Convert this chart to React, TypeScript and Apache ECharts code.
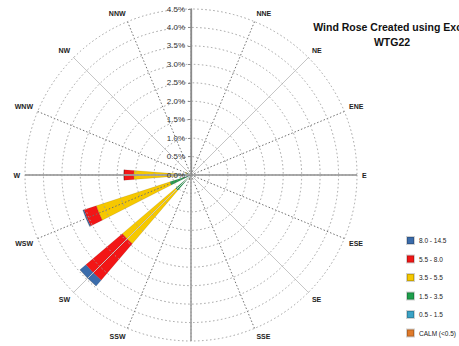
import React, { useEffect, useRef } from "react";
import * as echarts from "echarts";

const directions = ["N", "NNE", "NE", "ENE", "E", "ESE", "SE", "SSE", "S", "SSW", "SW", "WSW", "W", "WNW", "NW", "NNW"];
const speedBins = ["8.0 - 14.5", "5.5 - 8.0", "3.5 - 5.5", "1.5 - 3.5", "0.5 - 1.5", "CALM (<0.5)"];
const binColors = ["#3b6cab", "#f21616", "#f6c800", "#1ea04c", "#3ba3c6", "#e07a2a"];

// frequency (%) per direction, per speed bin
const bin8to145 = [0, 0, 0, 0, 0, 0, 0, 0, 0, 0, 0.21, 0.03, 0, 0, 0, 0];
const bin55to8 = [0, 0, 0, 0, 0, 0, 0, 0, 0, 0, 1.3, 0.35, 0.27, 0, 0, 0];
const bin35to55 = [0, 0, 0, 0, 0, 0, 0, 0, 0, 0.02, 1.9, 2.1, 1.15, 0.04, 0, 0];
const bin15to35 = [0.01, 0.01, 0.01, 0.01, 0.01, 0.01, 0.01, 0.01, 0.02, 0.05, 0.45, 0.5, 0.3, 0.06, 0.02, 0.01];
const bin05to15 = [0.04, 0.03, 0.03, 0.03, 0.03, 0.03, 0.03, 0.03, 0.04, 0.06, 0.1, 0.1, 0.1, 0.06, 0.04, 0.04];
const calm = [0, 0, 0, 0, 0, 0, 0, 0, 0, 0, 0, 0, 0, 0, 0, 0];

const radiusMax = 4.5;
const radiusStep = 0.5;
// direction labels that fall outside the picture are not shown
const hiddenLabels = ["N", "S"];

const FONT = "Liberation Sans";

export default function App() {
  const ref = useRef<HTMLDivElement>(null);
  useEffect(() => {
    if (!ref.current) return;
    const chart = echarts.init(ref.current, undefined, { renderer: "svg" });
    const center = [191, 175];
    const radius = 166;
    const polar = [0, 1, 2, 3].map(() => ({ center, radius }));
    const spoke = (idx: number, interval: number, lineStyle: any) => ({
      polarIndex: idx,
      type: "value",
      min: 0,
      max: 360,
      interval,
      startAngle: 90,
      z: 3,
      axisLine: { show: false },
      axisTick: { show: false },
      axisLabel: { show: false },
      splitLine: { show: true, lineStyle },
    });
    const hiddenRadius = (idx: number) => ({
      polarIndex: idx,
      type: "value",
      min: 0,
      max: radiusMax,
      show: false,
      splitLine: { show: false },
    });
    const stackData = [
      { name: speedBins[4], data: bin05to15, color: binColors[4] },
      { name: speedBins[3], data: bin15to35, color: binColors[3] },
      { name: speedBins[2], data: bin35to55, color: binColors[2] },
      { name: speedBins[1], data: bin55to8, color: binColors[1] },
      { name: speedBins[0], data: bin8to145, color: binColors[0] },
      { name: speedBins[5], data: calm, color: binColors[5] },
    ];
    chart.setOption({
      animation: false,
      textStyle: { fontFamily: FONT },
      title: {
        text: "Wind Rose Created using Excel\nWTG22",
        left: 387,
        top: 14,
        textAlign: "center",
        textStyle: { fontSize: 10.5, fontWeight: "bold", color: "#111", lineHeight: 15, fontFamily: FONT },
      },
      legend: {
        orient: "vertical",
        left: 406,
        top: 236,
        itemWidth: 7,
        itemHeight: 7,
        itemGap: 9.5,
        padding: 0,
        icon: "rect",
        data: speedBins,
        textStyle: { fontSize: 6.5, color: "#222", fontFamily: FONT },
      },
      polar,
      angleAxis: [
        {
          polarIndex: 0,
          type: "category",
          data: directions,
          startAngle: 101.25,
          boundaryGap: true,
          axisLine: { show: false },
          axisTick: { show: false },
          splitLine: { show: false },
          axisLabel: {
            fontSize: 7,
            margin: 5,
            color: "#222",
            fontWeight: "bold",
            fontFamily: FONT,
            formatter: (v: string) => (hiddenLabels.includes(v) ? "" : v),
          },
        },
        spoke(1, 22.5, { color: "#707070", type: [1.5, 2], width: 1 }),
        spoke(2, 45, { color: "#c6c6c6", type: "solid", width: 1 }),
        spoke(3, 90, { color: "#999", type: "solid", width: 1.3 }),
      ],
      radiusAxis: [
        hiddenRadius(0),
        hiddenRadius(1),
        hiddenRadius(2),
        {
          polarIndex: 3,
          type: "value",
          min: 0,
          max: radiusMax,
          interval: radiusStep,
          z: 4,
          axisLine: { show: true, lineStyle: { color: "#8a8a8a", width: 1.3 } },
          axisTick: { show: true, length: 3, lineStyle: { color: "#8a8a8a" } },
          axisLabel: {
            fontSize: 8,
            color: "#333",
            margin: 6,
            fontFamily: FONT,
            formatter: (v: number) => v.toFixed(1) + "%",
          },
          splitLine: { show: true, lineStyle: { color: "#a0a0a0", type: [1.5, 2.5], width: 1 } },
        },
      ],
      series: stackData.map((s) => ({
        type: "bar",
        name: s.name,
        coordinateSystem: "polar",
        polarIndex: 0,
        stack: "wind",
        barWidth: "40%",
        data: s.data,
        itemStyle: { color: s.color, borderColor: "rgba(0,0,0,0.18)", borderWidth: 0.5 },
      })),
    });
    return () => chart.dispose();
  }, []);
  return (
    <div
      ref={ref}
      style={{ position: "fixed", left: 0, top: 0, width: 459, height: 346, background: "#fff" }}
    />
  );
}
